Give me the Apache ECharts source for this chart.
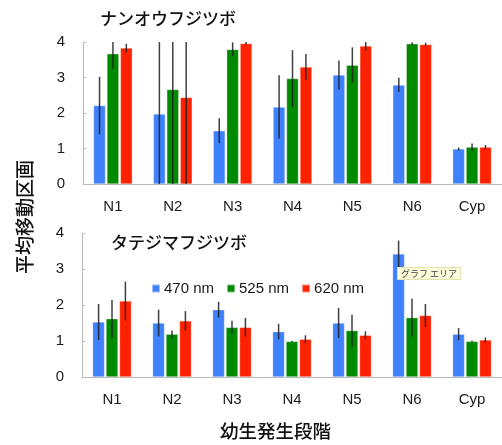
<!DOCTYPE html>
<html>
<head>
<meta charset="utf-8">
<script src="https://cdn.jsdelivr.net/npm/echarts@6/dist/echarts.min.js"></script>
<style>
  html, body { margin: 0; padding: 0; background: #fff; }
  #main { width: 502px; height: 445px; }
</style>
</head>
<body>
<div id="main"></div>
<script>
const categories = ["N1", "N2", "N3", "N4", "N5", "N6", "Cyp"];
const yTicks = [0, 1, 2, 3, 4];
const seriesNames = ["470 nm", "525 nm", "620 nm"];
const colors = ["#3f80fb", "#008a00", "#ff2200"];

// ナンオウフジツボ (top)
const top470 = [2.21, 1.97, 1.5, 2.17, 3.07, 2.79, 0.99];
const top470Err = [0.81, 2.05, 0.35, 0.89, 0.41, 0.2, 0.04];
const top525 = [3.67, 2.66, 3.79, 2.97, 3.35, 3.95, 1.04];
const top525Err = [0.43, 2.7, 0.2, 0.8, 0.5, 0.04, 0.1];
const top620 = [3.83, 2.44, 3.96, 3.3, 3.89, 3.93, 1.04];
const top620Err = [0.12, 2.6, 0.04, 0.36, 0.13, 0.05, 0.06];

// タテジマフジツボ (bottom)
const bot470 = [1.53, 1.5, 1.87, 1.26, 1.5, 3.42, 1.19];
const bot470Err = [0.5, 0.37, 0.22, 0.22, 0.42, 0.37, 0.17];
const bot525 = [1.62, 1.19, 1.38, 0.99, 1.29, 1.65, 0.99];
const bot525Err = [0.52, 0.1, 0.18, 0.02, 0.44, 0.53, 0.02];
const bot620 = [2.11, 1.56, 1.38, 1.05, 1.16, 1.71, 1.03];
const bot620Err = [0.54, 0.27, 0.26, 0.11, 0.11, 0.32, 0.07];

const font = "'Liberation Sans', Arial, sans-serif";
const jpFont = "'Noto Sans CJK JP', sans-serif";
const barWidth = 12;
const barStep = 13.4;

function xAxis(gridIndex) {
  return {
    type: "category",
    gridIndex,
    data: categories,
    axisLine: { lineStyle: { color: "#b8b8b8", width: 1 } },
    axisTick: { length: 4, lineStyle: { color: "#b8b8b8" } },
    axisLabel: { color: "#1a1a1a", fontSize: 15, fontFamily: font, margin: 15 },
  };
}

function yAxis(gridIndex) {
  return {
    type: "value",
    gridIndex,
    min: yTicks[0],
    max: yTicks[yTicks.length - 1],
    interval: 1,
    axisLine: { show: true, lineStyle: { color: "#b8b8b8", width: 1 } },
    axisTick: { show: true, inside: true, length: 3, lineStyle: { color: "#b8b8b8" } },
    splitLine: { show: false },
    axisLabel: { color: "#1a1a1a", fontSize: 15, fontFamily: font, margin: 18 },
  };
}

function barSeries(name, values, idx, axisIndex) {
  return {
    name,
    type: "bar",
    xAxisIndex: axisIndex,
    yAxisIndex: axisIndex,
    data: values,
    barWidth,
    barGap: "12%",
    itemStyle: { color: colors[idx], borderColor: "rgba(255,255,255,0.5)", borderWidth: 0.6 },
    z: 2,
  };
}

function errorSeries(values, errs, idx, axisIndex) {
  return {
    type: "custom",
    xAxisIndex: axisIndex,
    yAxisIndex: axisIndex,
    clip: true,
    z: 5,
    silent: true,
    data: values.map((v, i) => [i, v - errs[i], v + errs[i]]),
    renderItem(params, api) {
      const lo = api.coord([api.value(0), api.value(1)]);
      const hi = api.coord([api.value(0), api.value(2)]);
      const x = lo[0] + (idx - 1) * barStep;
      return {
        type: "line",
        shape: { x1: x, y1: lo[1], x2: x, y2: hi[1] },
        style: { stroke: "rgba(30,30,30,0.85)", lineWidth: 1.5 },
      };
    },
  };
}

const option = {
  animation: false,
  backgroundColor: "#fff",
  grid: [
    { left: 83, right: -1, top: 42, height: 142 },
    { left: 82, right: -1, top: 233, height: 144 },
  ],
  xAxis: [xAxis(0), xAxis(1)],
  yAxis: [yAxis(0), yAxis(1)],
  legend: {
    data: seriesNames,
    left: 146,
    top: 276,
    icon: "rect",
    itemWidth: 8,
    itemHeight: 8,
    itemGap: 12,
    textStyle: { fontSize: 15, fontFamily: font, color: "#1a1a1a", padding: [0, 0, 0, -1] },
  },
  graphic: [
    {
      type: "text", left: 100, top: 10,
      style: { text: "ナンオウフジツボ", font: "500 17px " + jpFont, fill: "#111" },
    },
    {
      type: "text", left: 111, top: 234,
      style: { text: "タテジマフジツボ", font: "500 17px " + jpFont, fill: "#111" },
    },
    {
      type: "text", left: 220, top: 422,
      style: { text: "幼生発生段階", font: "500 18.5px " + jpFont, fill: "#111" },
    },
    {
      type: "text", x: 15, y: 274, rotation: Math.PI / 2,
      style: { text: "平均移動区画", font: "500 19px " + jpFont, fill: "#111" },
    },
    {
      type: "text", left: 397, top: 267, z: 100,
      style: {
        text: "グラフ エリア",
        font: "9px " + jpFont,
        fill: "#444",
        backgroundColor: "#fdfbd9",
        borderColor: "#e6e2b0",
        borderWidth: 1,
        padding: [1, 3, 1, 3],
      },
    },
  ],
  series: [
    barSeries(seriesNames[0], top470, 0, 0),
    barSeries(seriesNames[1], top525, 1, 0),
    barSeries(seriesNames[2], top620, 2, 0),
    barSeries(seriesNames[0], bot470, 0, 1),
    barSeries(seriesNames[1], bot525, 1, 1),
    barSeries(seriesNames[2], bot620, 2, 1),
    errorSeries(top470, top470Err, 0, 0),
    errorSeries(top525, top525Err, 1, 0),
    errorSeries(top620, top620Err, 2, 0),
    errorSeries(bot470, bot470Err, 0, 1),
    errorSeries(bot525, bot525Err, 1, 1),
    errorSeries(bot620, bot620Err, 2, 1),
  ],
};

const chart = echarts.init(document.getElementById("main"));
chart.setOption(option);
</script>
</body>
</html>
